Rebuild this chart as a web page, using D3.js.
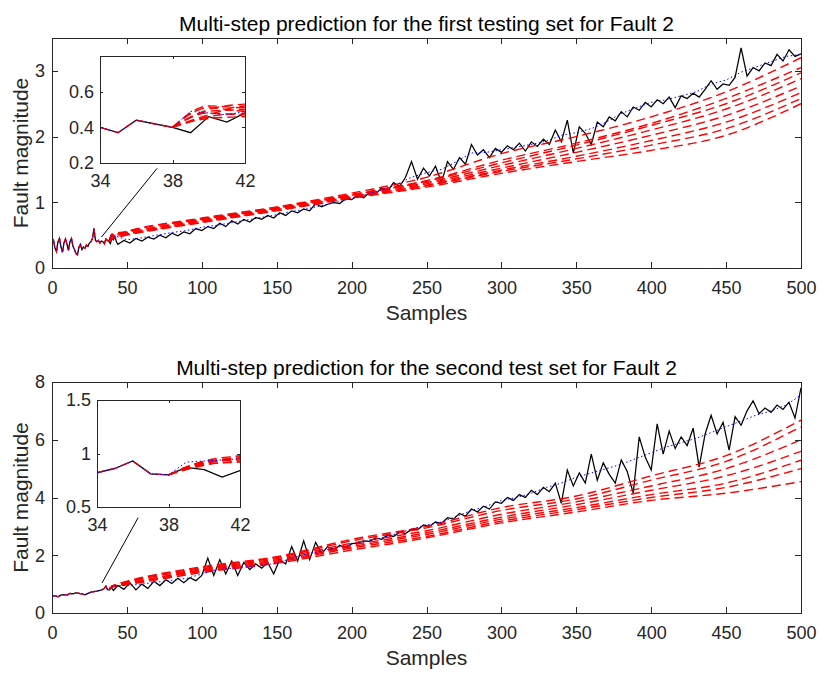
<!DOCTYPE html>
<html>
<head>
<meta charset="utf-8">
<script src="https://cdn.jsdelivr.net/npm/d3@7"></script>
<style>
body { margin: 0; background: #fff; }
</style>
</head>
<body>
<svg id="chart" width="821" height="673"></svg>
<script>
// ---- data ----
const xTicks = [0, 50, 100, 150, 200, 250, 300, 350, 400, 450, 500];
const topYTicks = [0, 1, 2, 3];
const bottomYTicks = [0, 2, 4, 6, 8];
const insetXTicks = [34, 38, 42];
const topInsetYTicks = [0.2, 0.4, 0.6];
const bottomInsetYTicks = [0.5, 1, 1.5];

const topTitle = "Multi-step prediction for the first testing set for Fault 2";
const bottomTitle = "Multi-step prediction for the second test set for Fault 2";
const xLabel = "Samples";
const yLabel = "Fault magnitude";

// measured fault magnitude (black), [sample, value]
const topBlack = [
  [0,0.38],[1,0.42],[2,0.3],[3,0.25],[4,0.4],[5,0.45],[6,0.32],[7,0.24],[8,0.38],[9,0.44],
  [10,0.36],[11,0.27],[12,0.4],[13,0.45],[14,0.33],[15,0.28],[16,0.22],[17,0.2],[18,0.32],[19,0.36],
  [20,0.28],[21,0.32],[22,0.3],[23,0.35],[24,0.33],[25,0.38],[26,0.4],[27,0.45],[28,0.6],[29,0.42],
  [30,0.4],[31,0.42],[32,0.38],[33,0.41],[34,0.40],[35,0.37],[36,0.44],[37,0.42],[38,0.40],[39,0.37],
  [40,0.46],[41,0.43],[42,0.48],[43,0.4],
  [44,0.36],[48,0.42],[52,0.38],[56,0.45],[60,0.41],[64,0.47],[68,0.44],[72,0.5],[76,0.46],[80,0.53],
  [84,0.49],[88,0.55],[92,0.52],[96,0.6],[100,0.57],[104,0.63],[108,0.6],[112,0.68],[116,0.63],[120,0.72],
  [124,0.67],[128,0.74],[132,0.7],[136,0.77],[140,0.74],[144,0.8],[148,0.76],[152,0.84],[156,0.8],[160,0.87],
  [164,0.84],[168,0.9],[172,0.87],[176,0.98],[180,0.93],[184,0.97],[188,1.0],[192,0.98],[196,1.05],[200,1.04],
  [204,1.1],[208,1.07],[212,1.15],[216,1.12],[220,1.22],[224,1.17],[228,1.3],[232,1.24],[236,1.38],[240,1.62],
  [244,1.35],[248,1.52],[252,1.4],[256,1.55],[260,1.3],[264,1.62],[268,1.5],[272,1.68],[276,1.58],[280,1.88],
  [284,1.72],[288,1.8],[292,1.68],[296,1.82],[300,1.76],[304,1.86],[308,1.8],[312,1.9],[316,1.78],[320,1.92],
  [324,1.85],[328,1.96],[332,1.88],[336,2.1],[340,1.92],[344,2.25],[348,1.75],[352,2.15],[356,2.05],[360,1.88],
  [364,2.22],[368,2.15],[372,2.3],[376,2.24],[380,2.38],[384,2.3],[388,2.45],[392,2.4],[396,2.52],[400,2.45],
  [404,2.56],[408,2.5],[412,2.6],[416,2.44],[420,2.62],[424,2.58],[428,2.66],[432,2.6],[436,2.72],[440,2.85],
  [444,2.72],[448,2.8],[452,2.78],[456,2.9],[460,3.35],[464,2.92],[468,3.05],[472,3.0],[476,3.12],[480,3.08],
  [484,3.25],[488,3.15],[492,3.32],[496,3.22],[500,3.26]
];

// estimated magnitude (blue dotted), from the prediction start on
const topBlue = [
  [38,0.40],[39,0.49],[40,0.48],[41,0.47],[42,0.49],[50,0.43],[60,0.46],[70,0.5],[80,0.54],[90,0.57],
  [100,0.62],[110,0.65],[120,0.69],[130,0.73],[140,0.77],[150,0.81],[160,0.86],[170,0.9],[180,0.95],[190,1.0],
  [200,1.06],[210,1.12],[220,1.19],[230,1.27],[240,1.38],[250,1.45],[260,1.5],[270,1.62],[280,1.75],[290,1.76],
  [300,1.8],[310,1.84],[320,1.88],[330,1.93],[340,2.02],[350,2.06],[360,2.12],[370,2.22],[380,2.35],[390,2.44],
  [400,2.52],[410,2.56],[420,2.62],[430,2.68],[440,2.8],[450,2.86],[460,2.98],[470,3.06],[480,3.14],[490,3.22],
  [500,3.25]
];

// multi-step predictions (red dashed), values at predX
const predX = [38, 40, 42, 50, 100, 150, 200, 250, 300, 350, 400, 450, 500];
const topPred = [
  [0.40,0.52,0.51,0.56,0.76,0.93,1.14,1.38,1.74,2.00,2.30,2.68,3.20],
  [0.40,0.50,0.53,0.55,0.75,0.92,1.12,1.33,1.64,1.90,2.20,2.58,3.05],
  [0.40,0.51,0.49,0.55,0.74,0.91,1.11,1.32,1.60,1.87,2.17,2.50,2.97],
  [0.40,0.49,0.50,0.54,0.73,0.91,1.10,1.30,1.56,1.82,2.10,2.42,2.88],
  [0.40,0.47,0.52,0.53,0.72,0.90,1.09,1.28,1.52,1.76,2.02,2.32,2.77],
  [0.40,0.46,0.48,0.52,0.71,0.89,1.08,1.26,1.49,1.70,1.94,2.22,2.67],
  [0.40,0.48,0.47,0.51,0.70,0.88,1.07,1.25,1.47,1.66,1.87,2.12,2.58],
  [0.40,0.45,0.46,0.50,0.69,0.87,1.06,1.23,1.44,1.62,1.79,2.02,2.50]
];

const bottomBlack = [
  [0,0.58],[2,0.6],[4,0.56],[6,0.62],[8,0.64],[10,0.62],[12,0.68],[14,0.66],[16,0.7],[18,0.68],
  [20,0.66],[22,0.63],[24,0.68],[26,0.72],[28,0.74],[30,0.76],[32,0.78],[33,0.8],[34,0.82],[35,0.86],
  [36,0.93],[37,0.81],[38,0.80],[39,0.87],[40,0.85],[41,0.78],[42,0.84],[43,0.9],
  [44,0.95],[48,0.82],[52,1.05],[56,0.8],[60,1.0],[64,0.85],[68,1.1],[72,0.95],[76,1.15],[80,1.02],
  [84,1.2],[88,1.05],[92,1.22],[96,1.12],[100,1.3],[104,1.9],[108,1.3],[112,1.85],[116,1.35],[120,1.8],
  [124,1.3],[128,1.75],[132,1.5],[136,1.7],[140,1.55],[144,1.75],[148,1.35],[152,1.85],[156,1.7],[160,2.3],
  [164,1.8],[168,2.5],[172,1.85],[176,2.45],[180,2.05],[184,2.3],[188,2.15],[192,2.35],[196,2.25],[200,2.4],
  [204,2.42],[208,2.5],[212,2.48],[216,2.6],[220,2.55],[224,2.7],[228,2.65],[232,2.8],[236,2.75],[240,2.9],
  [244,2.88],[248,3.05],[252,3.0],[256,3.15],[260,3.1],[264,3.3],[268,3.25],[272,3.45],[276,3.35],[280,3.6],
  [284,3.5],[288,3.7],[292,3.6],[296,3.85],[300,3.8],[304,4.0],[308,3.9],[312,4.1],[316,4.0],[320,4.25],
  [324,4.1],[328,4.35],[332,4.2],[336,4.5],[340,3.8],[344,4.95],[348,4.4],[352,4.85],[356,4.5],[360,5.5],
  [364,4.6],[368,5.2],[372,4.8],[376,4.5],[380,5.3],[384,4.9],[388,4.15],[392,6.1],[396,5.4],[400,4.95],
  [404,6.55],[408,5.5],[412,6.3],[416,5.7],[420,6.1],[424,5.8],[428,6.4],[432,5.05],[436,6.2],[440,6.85],
  [444,6.2],[448,6.6],[452,5.64],[456,6.8],[460,6.5],[464,7.0],[468,7.35],[472,6.9],[476,7.1],[480,6.95],
  [484,7.2],[488,7.05],[492,7.3],[496,6.75],[500,7.8]
];

const bottomBlue = [
  [38,0.80],[39,0.92],[40,0.93],[41,0.94],[42,0.95],[50,0.95],[60,1.0],[70,1.07],[80,1.13],[90,1.2],
  [100,1.35],[110,1.5],[120,1.55],[130,1.6],[140,1.65],[150,1.72],[160,1.9],[170,2.05],[180,2.15],[190,2.27],
  [200,2.38],[210,2.48],[220,2.6],[230,2.75],[240,2.9],[250,3.05],[260,3.15],[270,3.35],[280,3.55],[290,3.7],
  [300,3.9],[310,4.0],[320,4.15],[330,4.35],[340,4.5],[350,4.7],[360,4.85],[370,5.0],[380,5.15],[390,5.35],
  [400,5.55],[410,5.75],[420,5.9],[430,6.05],[440,6.25],[450,6.45],[460,6.65],[470,6.85],[480,7.0],[490,7.2],
  [500,7.55]
];

const bottomPred = [
  [0.80,0.93,0.98,1.10,1.60,1.95,2.55,3.00,3.65,4.05,4.75,5.45,6.68],
  [0.80,0.92,0.96,1.08,1.57,1.92,2.50,2.95,3.55,3.95,4.60,5.25,6.45],
  [0.80,0.91,0.95,1.06,1.53,1.88,2.42,2.85,3.42,3.85,4.40,5.00,6.00],
  [0.80,0.90,0.97,1.04,1.50,1.84,2.35,2.78,3.32,3.75,4.25,4.75,5.60],
  [0.80,0.92,0.94,1.02,1.47,1.80,2.30,2.72,3.25,3.65,4.10,4.50,5.29],
  [0.80,0.89,0.93,1.00,1.44,1.76,2.25,2.65,3.18,3.58,4.00,4.35,5.00],
  [0.80,0.90,0.92,0.98,1.40,1.72,2.18,2.60,3.12,3.50,3.90,4.15,4.55]
];

// zoom connector: [main sample, main value] -> [inset sample, inset value]
const topLink = [[33, 0.47], [37.15, 0.17]];
const bottomLink = [[33.4, 1.04], [36.3, 0.4]];

// ---- drawing ----
const FONT = "Arial, 'Liberation Sans', Helvetica, sans-serif";
const AX = "#262626";
const svg = d3.select("#chart");
const defs = svg.append("defs");
let clipCount = 0;

/**
 * Matlab style box: inward ticks on all four sides, labels on left and bottom.
 */
function drawFrame(g, x, y, xt, yt, o) {
    const [l, r] = x.range(), [b, t] = y.range();
    g.append("g").attr("transform", "translate(0," + b + ")")
    .call(d3.axisBottom(x).tickValues(xt).tickSizeInner(-o.tick).tickSizeOuter(0)
        .tickPadding(o.xpad).tickFormat(d3.format("")));
    g.append("g").attr("transform", "translate(0," + t + ")")
    .call(d3.axisTop(x).tickValues(xt).tickSizeInner(-o.tick).tickSizeOuter(0).tickFormat(""));
    g.append("g").attr("transform", "translate(" + l + ",0)")
    .call(d3.axisLeft(y).tickValues(yt).tickSizeInner(-o.tick).tickSizeOuter(0)
        .tickPadding(o.ypad).tickFormat(d3.format("")));
    g.append("g").attr("transform", "translate(" + r + ",0)")
    .call(d3.axisRight(y).tickValues(yt).tickSizeInner(-o.tick).tickSizeOuter(0).tickFormat(""));
    g.selectAll(".domain").remove();
    g.selectAll(".tick line").attr("stroke", AX).attr("shape-rendering", "crispEdges");
    g.selectAll(".tick text")
    .attr("fill", AX)
    .attr("font-size", 18)
    .attr("font-family", FONT);
    g.append("rect")
    .attr("x", l).attr("y", t)
    .attr("width", r - l).attr("height", b - t)
    .attr("fill", "none")
    .attr("stroke", AX)
    .attr("shape-rendering", "crispEdges");
}

/**
 * Black measurement, red dashed predictions, blue dotted estimate.
 */
function drawSeries(g, x, y, black, blue, pred) {
    const id = "clip" + (clipCount++);
    defs.append("clipPath").attr("id", id).append("rect")
    .attr("x", x.range()[0]).attr("y", y.range()[1])
    .attr("width", x.range()[1] - x.range()[0])
    .attr("height", y.range()[0] - y.range()[1]);
    const layer = g.append("g").attr("clip-path", "url(#" + id + ")");
    const straight = d3.line().x(function (d) {return x(d[0]);}).y(function (d) {return y(d[1]);});
    const smooth = d3.line().curve(d3.curveMonotoneX)
    .x(function (d) {return x(d[0]);}).y(function (d) {return y(d[1]);});
    const fit = black.filter(function (d) {return d[0] <= predX[0];});

    layer.append("path").datum(black)
    .attr("d", straight)
    .attr("fill", "none")
    .attr("stroke", "#000")
    .attr("stroke-width", 1.25);

    layer.append("path").datum(fit)
    .attr("d", straight)
    .attr("fill", "none")
    .attr("stroke", "#ff0000")
    .attr("stroke-width", 1.4)
    .attr("stroke-dasharray", "8,5");

    layer.selectAll(".pred")
    .data(pred.map(function (v) {
        return predX.map(function (t, i) {return [t, v[i]];});
    }))
    .enter().append("path")
    .attr("class", "pred")
    .attr("d", smooth)
    .attr("fill", "none")
    .attr("stroke", "#ff0000")
    .attr("stroke-width", 1.4)
    .attr("stroke-dasharray", "9,5");

    layer.append("path").datum(fit.concat(blue.slice(1)))
    .attr("d", straight)
    .attr("fill", "none")
    .attr("stroke", "#0000ff")
    .attr("stroke-width", 1)
    .attr("stroke-dasharray", "1.5,2.5");
}

function drawPanel(p) {
    const g = svg.append("g");
    const x = d3.scaleLinear().domain([0, 500]).range([p.left, p.right]);
    const y = d3.scaleLinear().domain([0, p.yMax]).range([p.bottom, p.top]);

    drawSeries(g, x, y, p.black, p.blue, p.pred);
    drawFrame(g, x, y, xTicks, p.yTicks, {tick: 6, xpad: 13, ypad: 7});

    g.append("text")
    .attr("x", (p.left + p.right) / 2).attr("y", p.top - 7.5)
    .attr("text-anchor", "middle")
    .attr("font-family", FONT).attr("font-size", 21).attr("fill", "#000")
    .text(p.title);
    g.append("text")
    .attr("x", (p.left + p.right) / 2).attr("y", p.bottom + 52)
    .attr("text-anchor", "middle")
    .attr("font-family", FONT).attr("font-size", 21).attr("fill", AX)
    .text(xLabel);
    g.append("text")
    .attr("transform", "translate(28," + ((p.top + p.bottom) / 2) + ") rotate(-90)")
    .attr("text-anchor", "middle")
    .attr("font-family", FONT).attr("font-size", 21).attr("fill", AX)
    .text(yLabel);

    // zoomed inset
    const q = p.inset;
    const ix = d3.scaleLinear().domain([insetXTicks[0], insetXTicks[2]]).range([q.left, q.right]);
    const iy = d3.scaleLinear().domain(q.yDomain).range([q.bottom, q.top]);
    g.append("line")
    .attr("x1", x(p.link[0][0])).attr("y1", y(p.link[0][1]))
    .attr("x2", ix(p.link[1][0])).attr("y2", iy(p.link[1][1]))
    .attr("stroke", "#000").attr("stroke-width", 1);
    const ig = g.append("g");
    ig.append("rect")
    .attr("x", q.left).attr("y", q.top)
    .attr("width", q.right - q.left).attr("height", q.bottom - q.top)
    .attr("fill", "#fff");
    drawSeries(ig, ix, iy, p.black, p.blue, p.pred);
    drawFrame(ig, ix, iy, insetXTicks, q.yTicks, {tick: 3, xpad: 11, ypad: 6});
}

drawPanel({
    left: 52, right: 801, top: 38, bottom: 268, yMax: 3.5,
    yTicks: topYTicks, title: topTitle,
    black: topBlack, blue: topBlue, pred: topPred, link: topLink,
    inset: {left: 100, right: 245, top: 56, bottom: 163, yDomain: [0.2, 0.8], yTicks: topInsetYTicks}
});
drawPanel({
    left: 52, right: 801, top: 382, bottom: 613, yMax: 8,
    yTicks: bottomYTicks, title: bottomTitle,
    black: bottomBlack, blue: bottomBlue, pred: bottomPred, link: bottomLink,
    inset: {left: 97, right: 240, top: 400, bottom: 507, yDomain: [0.5, 1.5], yTicks: bottomInsetYTicks}
});
</script>
</body>
</html>
